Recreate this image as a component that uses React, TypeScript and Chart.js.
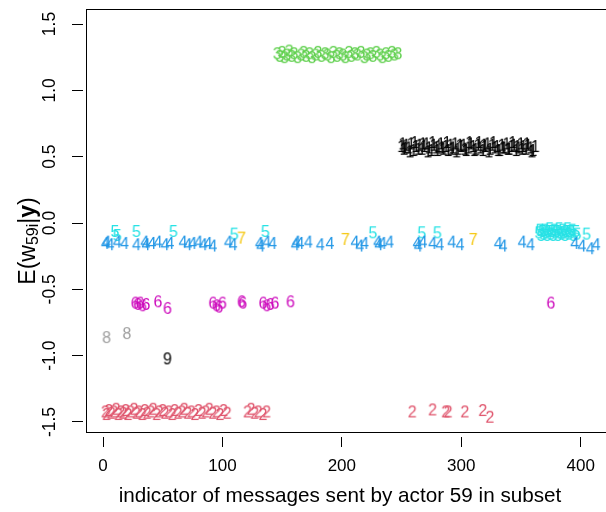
import React, { useEffect, useRef } from "react";
import { Chart, registerables } from "chart.js";

Chart.register(...registerables);

const FAMILY = "'Liberation Sans', Arial, Helvetica, sans-serif";

// ---- tick labels ----
const xTicks = [0, 100, 200, 300, 400];
const yTicks = [-1.5, -1.0, -0.5, 0.0, 0.5, 1.0, 1.5];
const xTitle = "indicator of messages sent by actor 59 in subset";

// ---- cluster labels and colours (R palette) ----
const clusterLabels = ["1", "2", "3", "4", "5", "6", "7", "8", "9"];
const clusterColors = ["#000000", "#DF536B", "#61D04F", "#2297E6", "#28E2E5", "#CD0BBC", "#F5C710", "#9E9E9E", "#000000"];

// ---- data: [message index, E(w|y)] per cluster ----
const cluster1: [number, number][] = [
  [250, 0.58], [251, 0.6], [252, 0.56], [253, 0.57], [254, 0.59], [256, 0.57], [257, 0.54], [258, 0.6], [260, 0.55], [261, 0.61],
  [262, 0.58], [264, 0.56], [265, 0.59], [267, 0.56], [268, 0.6], [269, 0.58], [271, 0.6], [272, 0.54], [273, 0.57], [275, 0.55],
  [276, 0.61], [277, 0.59], [279, 0.57], [280, 0.55], [281, 0.58], [283, 0.6], [284, 0.57], [285, 0.56], [287, 0.58], [288, 0.61],
  [289, 0.55], [291, 0.59], [292, 0.56], [293, 0.57], [295, 0.6], [296, 0.54], [297, 0.56], [299, 0.59], [300, 0.58], [302, 0.59],
  [303, 0.56], [304, 0.55], [306, 0.57], [307, 0.61], [308, 0.6], [310, 0.58], [311, 0.55], [312, 0.56], [314, 0.59], [315, 0.61],
  [316, 0.57], [318, 0.55], [319, 0.59], [320, 0.58], [322, 0.6], [323, 0.54], [324, 0.56], [326, 0.59], [327, 0.61], [328, 0.57],
  [330, 0.58], [331, 0.55], [332, 0.55], [334, 0.59], [335, 0.57], [336, 0.57], [338, 0.6], [339, 0.56], [340, 0.56], [342, 0.58],
  [343, 0.61], [344, 0.59], [346, 0.55], [347, 0.58], [348, 0.57], [350, 0.6], [351, 0.56], [352, 0.58], [354, 0.56], [355, 0.6],
  [356, 0.59], [358, 0.57], [359, 0.54], [360, 0.55], [362, 0.58],
];
const cluster2: [number, number][] = [
  [2, -1.42], [3, -1.44], [5, -1.41], [7, -1.43], [9, -1.42], [11, -1.4], [13, -1.44], [15, -1.42], [17, -1.43], [19, -1.41],
  [21, -1.44], [23, -1.42], [26, -1.4], [28, -1.43], [30, -1.42], [33, -1.44], [35, -1.41], [37, -1.43], [40, -1.42], [42, -1.4],
  [45, -1.44], [47, -1.42], [50, -1.41], [52, -1.43], [55, -1.42], [58, -1.44], [60, -1.41], [63, -1.43], [66, -1.42], [68, -1.4],
  [71, -1.43], [74, -1.42], [77, -1.44], [80, -1.41], [83, -1.43], [86, -1.42], [89, -1.4], [92, -1.43], [95, -1.42], [98, -1.44],
  [101, -1.41], [104, -1.43], [121, -1.42], [124, -1.4], [127, -1.43], [130, -1.42], [134, -1.44], [137, -1.42],
  [259, -1.42], [276, -1.405], [287, -1.42], [289, -1.42], [303, -1.42], [318, -1.41], [324, -1.46],
];
const cluster3: [number, number][] = [
  [146, 1.28], [148, 1.26], [150, 1.29], [152, 1.25], [154, 1.27], [156, 1.3], [158, 1.26], [160, 1.28], [163, 1.25], [166, 1.27],
  [168, 1.29], [170, 1.26], [173, 1.28], [175, 1.25], [178, 1.27], [180, 1.29], [183, 1.26], [186, 1.28], [188, 1.27], [191, 1.25],
  [193, 1.29], [196, 1.26], [198, 1.28], [201, 1.27], [203, 1.25], [206, 1.29], [208, 1.26], [211, 1.28], [213, 1.27], [216, 1.29],
  [219, 1.25], [221, 1.27], [224, 1.28], [226, 1.26], [229, 1.29], [232, 1.27], [234, 1.25], [237, 1.28], [239, 1.26], [242, 1.29],
  [244, 1.27], [247, 1.28],
];
const cluster4: [number, number][] = [
  [2, -0.15], [3, -0.14], [6, -0.16], [12, -0.14], [18, -0.15], [28, -0.16], [35, -0.14], [36, -0.16], [41, -0.15], [46, -0.14],
  [52, -0.16], [56, -0.15], [67, -0.14], [71, -0.16], [75, -0.15], [80, -0.14], [84, -0.16], [88, -0.15], [92, -0.17], [105, -0.14],
  [109, -0.16], [131, -0.15], [132, -0.17], [137, -0.14], [142, -0.15], [161, -0.16], [162, -0.14], [165, -0.15], [172, -0.14], [182, -0.16],
  [190, -0.15], [211, -0.14], [215, -0.17], [219, -0.15], [230, -0.14], [231, -0.16], [234, -0.15], [240, -0.14], [263, -0.15], [264, -0.17],
  [268, -0.14], [276, -0.15], [282, -0.16], [292, -0.14], [299, -0.16], [331, -0.15], [335, -0.17], [351, -0.14], [358, -0.16], [395, -0.15],
  [401, -0.17], [408, -0.19], [413, -0.16],
];
const cluster5: [number, number][] = [
  [10, -0.06], [12, -0.09], [28, -0.06], [59, -0.06], [110, -0.08], [136, -0.06], [226, -0.07], [267, -0.07], [280, -0.07],
  [365, -0.07], [366, -0.05], [367, -0.09], [368, -0.06], [369, -0.08], [370, -0.05], [371, -0.07], [372, -0.09], [373, -0.06], [374, -0.04],
  [375, -0.08], [376, -0.06], [377, -0.09], [378, -0.05], [379, -0.07], [380, -0.06], [381, -0.09], [382, -0.04], [383, -0.07], [384, -0.08],
  [385, -0.05], [386, -0.07], [387, -0.09], [388, -0.06], [389, -0.04], [390, -0.08], [391, -0.06], [392, -0.07], [393, -0.05], [394, -0.09],
  [396, -0.06], [397, -0.08], [405, -0.08],
];
const cluster6: [number, number][] = [
  [27, -0.6], [29, -0.61], [31, -0.6], [33, -0.62], [36, -0.61], [46, -0.59], [54, -0.64], [92, -0.6], [95, -0.62], [97, -0.63],
  [100, -0.6], [116, -0.59], [117, -0.6], [134, -0.6], [137, -0.62], [140, -0.61], [144, -0.6], [157, -0.59], [375, -0.6],
];
const cluster7: [number, number][] = [[116, -0.11], [203, -0.12], [310, -0.12]];
const cluster8: [number, number][] = [[3, -0.86], [20, -0.83]];
const cluster9: [number, number][] = [[54, -1.02]];

const clusters = [cluster1, cluster2, cluster3, cluster4, cluster5, cluster6, cluster7, cluster8, cluster9];
const drawOrder = [3, 4, 6, 0, 2, 1, 5, 7, 8];

// ---- layout ----
const CANVAS_W = 620;
const CANVAS_H = 512;
const AREA_RIGHT = 609;
const X_MIN = -14.24;
const X_MAX = 423.7;
const Y_MIN = -1.5754;
const Y_MAX = 1.6131;

function makeGlyph(label: string, color: string): HTMLCanvasElement {
  const c = document.createElement("canvas");
  c.width = 14;
  c.height = 20;
  const g = c.getContext("2d")!;
  g.font = `16px ${FAMILY}`;
  g.fillStyle = color;
  g.textAlign = "center";
  g.textBaseline = "alphabetic";
  const m = g.measureText(label);
  const asc = m.actualBoundingBoxAscent || 11.5;
  const desc = m.actualBoundingBoxDescent || 0;
  g.fillText(label, 7, 10 + (asc - desc) / 2);
  return c;
}

const boxPlugin = {
  id: "rbox",
  afterDatasetsDraw(chart: any) {
    const { ctx, chartArea } = chart;
    ctx.save();
    ctx.strokeStyle = "#000";
    ctx.lineWidth = 1;
    ctx.strokeRect(chartArea.left + 0.5, chartArea.top + 0.5, chartArea.right - chartArea.left, chartArea.bottom - chartArea.top);
    ctx.restore();
  },
};

const titlesPlugin = {
  id: "rtitles",
  afterDraw(chart: any) {
    const ctx = chart.ctx as CanvasRenderingContext2D;
    // x-axis title
    ctx.save();
    ctx.fillStyle = "#000";
    ctx.font = `20.7px ${FAMILY}`;
    ctx.textAlign = "center";
    ctx.textBaseline = "middle";
    ctx.fillText(xTitle, 340, 496);
    ctx.restore();

    // y-axis title with subscript and bold y
    const big = `23px ${FAMILY}`;
    const small = `16px ${FAMILY}`;
    const bold = `bold 23px ${FAMILY}`;
    const parts = [
      { t: "E(", f: big, dy: 0 },
      { t: "w", f: big, dy: 0 },
      { t: "59i", f: small, dy: 3 },
      { t: "|", f: big, dy: 0 },
      { t: "y", f: bold, dy: 0 },
      { t: ")", f: big, dy: 0 },
    ];
    ctx.save();
    ctx.translate(35, 241);
    ctx.rotate(-Math.PI / 2);
    ctx.fillStyle = "#000";
    ctx.textBaseline = "alphabetic";
    ctx.textAlign = "left";
    let total = 0;
    const widths = parts.map((p) => {
      ctx.font = p.f;
      const w = ctx.measureText(p.t).width;
      total += w;
      return w;
    });
    let x = -total / 2;
    parts.forEach((p, i) => {
      ctx.font = p.f;
      ctx.fillText(p.t, x, p.dy);
      x += widths[i];
    });
    ctx.restore();
  },
};

export default function App() {
  const ref = useRef<HTMLCanvasElement | null>(null);

  useEffect(() => {
    document.body.style.margin = "0";
    document.documentElement.style.overflow = "hidden";
    const canvas = ref.current;
    if (!canvas) return;

    const datasets = drawOrder.map((ci) => ({
      label: clusterLabels[ci],
      data: clusters[ci].map(([x, y]) => ({ x, y })),
      pointStyle: makeGlyph(clusterLabels[ci], clusterColors[ci]) as any,
      pointRadius: 6,
      showLine: false,
      clip: false as any,
    }));

    const zeroPad = (s: any) => {
      s.paddingTop = 0;
      s.paddingBottom = 0;
      s.paddingLeft = 0;
      s.paddingRight = 0;
    };

    const chart = new Chart(canvas, {
      type: "scatter",
      data: { datasets },
      options: {
        animation: false,
        responsive: false,
        maintainAspectRatio: false,
        events: [],
        layout: { padding: { top: 9, right: CANVAS_W - AREA_RIGHT, left: 0, bottom: 0 } },
        plugins: {
          legend: { display: false },
          tooltip: { enabled: false },
          title: { display: false },
        },
        scales: {
          x: {
            type: "linear",
            position: "bottom",
            min: X_MIN,
            max: X_MAX,
            afterBuildTicks: (s: any) => {
              s.ticks = xTicks.map((v) => ({ value: v }));
            },
            afterFit: (s: any) => {
              s.height = CANVAS_H - 432;
              zeroPad(s);
            },
            grid: {
              display: true,
              drawOnChartArea: false,
              drawTicks: true,
              tickLength: 15,
              tickColor: "#000",
              tickWidth: 1,
              tickBorderDash: [0, 5, 10, 100],
            },
            border: { display: false },
            ticks: {
              color: "#000",
              font: { size: 17, family: FAMILY },
              padding: 9,
              autoSkip: false,
              maxRotation: 0,
              minRotation: 0,
              callback: (v: any) => String(v),
            },
            title: { display: false },
          },
          y: {
            type: "linear",
            position: "left",
            min: Y_MIN,
            max: Y_MAX,
            afterBuildTicks: (s: any) => {
              s.ticks = yTicks.map((v) => ({ value: v }));
            },
            afterFit: (s: any) => {
              s.width = 86;
              zeroPad(s);
            },
            grid: {
              display: true,
              drawOnChartArea: false,
              drawTicks: true,
              tickLength: 14,
              tickColor: "#000",
              tickWidth: 1,
              tickBorderDash: [11, 100],
            },
            border: { display: false },
            ticks: {
              color: "#000",
              font: { size: 17.5, family: FAMILY },
              padding: 7,
              autoSkip: false,
              minRotation: 90,
              maxRotation: 90,
              crossAlign: "center",
              callback: (v: any) => Number(v).toFixed(1),
            },
          },
        },
      },
      plugins: [boxPlugin, titlesPlugin],
    });

    return () => {
      chart.destroy();
    };
  }, []);

  return (
    <div style={{ width: 606, height: 512, overflow: "hidden", position: "relative" }}>
      <canvas ref={ref} width={CANVAS_W} height={CANVAS_H} style={{ display: "block", width: CANVAS_W, height: CANVAS_H }} />
    </div>
  );
}
